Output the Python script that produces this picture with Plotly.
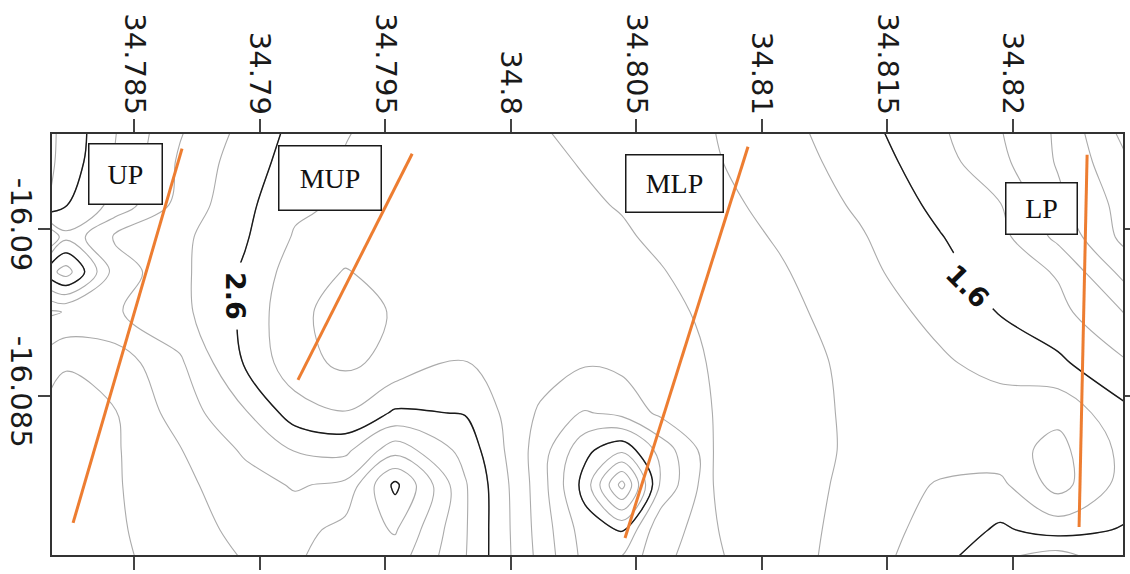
import plotly.graph_objects as go

# ---------------- data ----------------
# grid longitudes (columns) and latitudes (rows) of the gridded survey values
lon = [34.78157, 34.78229, 34.78424, 34.78683, 34.78942, 34.79141, 34.79341, 34.79540,
       34.79819, 34.80118, 34.80297, 34.80444, 34.80596, 34.80755, 34.81074, 34.81392,
       34.81711, 34.81950, 34.82181, 34.82448]
lat = [-16.09296, -16.09201, -16.09072, -16.08976, -16.08871, -16.08751, -16.08599,
       -16.08449, -16.08338, -16.08234, -16.08099, -16.08015]

# gridded values, one list per latitude row (north to south)
z_r00 = [3.85, 3.74, 3.41, 3.02, 2.74, 2.55, 2.41, 2.35, 2.29, 2.21, 2.16, 2.12, 2.07, 2.03, 1.87, 1.67, 1.43, 1.21, 0.97, 0.53]
z_r01 = [3.85, 3.72, 3.39, 2.97, 2.69, 2.52, 2.39, 2.35, 2.29, 2.23, 2.19, 2.14, 2.09, 2.04, 1.90, 1.71, 1.48, 1.25, 0.98, 0.63]
z_r02 = [3.80, 3.61, 3.34, 2.93, 2.65, 2.44, 2.37, 2.34, 2.30, 2.25, 2.22, 2.19, 2.13, 2.08, 1.94, 1.77, 1.55, 1.41, 1.05, 0.72]
z_r03 = [2.95, 3.35, 2.97, 2.85, 2.62, 2.38, 2.28, 2.30, 2.30, 2.27, 2.25, 2.22, 2.17, 2.11, 1.98, 1.82, 1.61, 1.46, 1.15, 0.74]
z_r04 = [3.70, 3.90, 3.11, 2.85, 2.57, 2.30, 2.19, 2.26, 2.30, 2.28, 2.26, 2.24, 2.21, 2.15, 2.02, 1.86, 1.66, 1.52, 1.38, 0.93]
z_r05 = [2.97, 3.01, 3.02, 2.86, 2.56, 2.23, 2.15, 2.21, 2.30, 2.30, 2.28, 2.26, 2.23, 2.19, 2.05, 1.91, 1.74, 1.59, 1.46, 1.19]
z_r06 = [3.30, 3.39, 3.31, 3.03, 2.58, 2.27, 2.16, 2.26, 2.41, 2.30, 2.22, 2.25, 2.24, 2.21, 2.08, 1.95, 1.83, 1.73, 1.64, 1.42]
z_r07 = [3.45, 3.45, 3.41, 3.11, 2.82, 2.50, 2.41, 2.63, 2.59, 2.17, 1.98, 2.06, 2.24, 2.22, 2.09, 1.96, 1.90, 1.90, 1.95, 1.65]
z_r08 = [3.48, 3.47, 3.42, 3.21, 2.97, 2.79, 2.75, 3.12, 2.73, 2.10, 1.65, 1.45, 1.87, 2.22, 2.10, 1.96, 1.90, 1.92, 2.06, 1.74]
z_r09 = [3.50, 3.48, 3.42, 3.25, 3.08, 2.98, 3.04, 3.65, 2.82, 2.10, 1.52, 0.72, 1.82, 2.22, 2.10, 1.94, 1.78, 1.75, 2.08, 1.72]
z_r10 = [3.50, 3.50, 3.43, 3.28, 3.15, 3.12, 3.27, 3.42, 2.82, 2.12, 1.70, 1.58, 2.15, 2.23, 2.10, 1.91, 1.72, 1.57, 1.68, 1.58]
z_r11 = [3.50, 3.50, 3.44, 3.31, 3.19, 3.18, 3.28, 3.30, 2.81, 2.14, 1.74, 1.82, 2.17, 2.25, 2.09, 1.90, 1.67, 1.42, 1.30, 1.55]

# survey profiles (start / end points)
profile_names = ["UP", "MUP", "MLP", "LP"]
profile_lon_start = [34.78691, 34.79608, 34.80946, 34.82297]
profile_lat_start = [-16.09240, -16.09225, -16.09246, -16.09222]
profile_lon_end = [34.78257, 34.79153, 34.80456, 34.82265]
profile_lat_end = [-16.08120, -16.08548, -16.08075, -16.08108]

# axis ticks
x_ticks = [34.785, 34.79, 34.795, 34.8, 34.805, 34.81, 34.815, 34.82]
x_tick_text = ["34.785", "34.79", "34.795", "34.8", "34.805", "34.81", "34.815", "34.82"]
y_ticks = [-16.09, -16.085]
y_tick_text = ["-16.09", "-16.085"]

# contour labels shown on the map
contour_label_text = ["2.6", "1.6"]

# ---------------- layout constants ----------------
X_RANGE = [34.78173, 34.82440]
Y_RANGE = [-16.08024, -16.09284]  # reversed: -16.09 at top
label_box_pos = [(34.78466, -16.09165), (34.79281, -16.09153), (34.80653, -16.09136), (34.82116, -16.09061)]
label_box_size = [(72, 59), (101, 63), (96, 56), (70, 50)]
contour_label_pos = [(34.78906, -16.08799), (34.81823, -16.08829)]
contour_label_angle = [90, 45]

z = [z_r00, z_r01, z_r02, z_r03, z_r04, z_r05, z_r06, z_r07, z_r08, z_r09, z_r10, z_r11]

fig = go.Figure()

# thin grey contours every 0.2
fig.add_trace(go.Contour(
    x=lon, y=lat, z=z,
    contours=dict(start=0.6, end=3.8, size=0.2, coloring="none"),
    line=dict(color="#ababab", width=1.1, smoothing=1.0),
    showscale=False, hoverinfo="skip",
))
# black index contours
fig.add_trace(go.Contour(
    x=lon, y=lat, z=z,
    contours=dict(start=1.6, end=3.6, size=1.0, coloring="none"),
    line=dict(color="#1a1a1a", width=1.4, smoothing=1.0),
    showscale=False, hoverinfo="skip",
))

# profiles
for i, name in enumerate(profile_names):
    fig.add_trace(go.Scatter(
        x=[profile_lon_start[i], profile_lon_end[i]],
        y=[profile_lat_start[i], profile_lat_end[i]],
        mode="lines", line=dict(color="#ED7D31", width=3),
        showlegend=False, hoverinfo="skip", name=name,
    ))

annotations = []
for i, name in enumerate(profile_names):
    bx, by = label_box_pos[i]
    w, h = label_box_size[i]
    annotations.append(dict(
        x=bx, y=by, xref="x", yref="y", text=name, showarrow=False,
        font=dict(family="Liberation Serif, Times New Roman, serif", size=28, color="#111"),
        bgcolor="white", bordercolor="#1a1a1a", borderwidth=1.5, borderpad=0,
        width=w, height=h, align="center", valign="middle",
    ))
for i, t in enumerate(contour_label_text):
    cx, cy = contour_label_pos[i]
    annotations.append(dict(
        x=cx, y=cy, xref="x", yref="y", text="<b>" + t + "</b>", showarrow=False,
        textangle=contour_label_angle[i],
        font=dict(family="DejaVu Sans, Arial, sans-serif", size=27, color="#111"),
        bgcolor="white", borderpad=9,
    ))

axis_font = dict(family="DejaVu Sans, Arial, sans-serif", size=29, color="#1a1a1a")
fig.update_layout(
    width=1130, height=574,
    margin=dict(l=52, r=7, t=134, b=19, autoexpand=False),
    paper_bgcolor="white", plot_bgcolor="white",
    showlegend=False,
    annotations=annotations,
    xaxis=dict(
        side="top", range=X_RANGE, tickvals=x_ticks, ticktext=x_tick_text,
        tickangle=90, ticks="outside", ticklen=13, tickwidth=2, tickcolor="#444",
        showline=True, linecolor="#333", linewidth=2, mirror="ticks",
        showgrid=False, zeroline=False, tickfont=axis_font, automargin=False,
        ticklabelstandoff=-6,
    ),
    yaxis=dict(
        range=Y_RANGE, tickvals=y_ticks, ticktext=y_tick_text,
        tickangle=90, ticks="outside", ticklen=12, tickwidth=2, tickcolor="#444",
        showline=True, linecolor="#333", linewidth=2, mirror="ticks",
        showgrid=False, zeroline=False, tickfont=axis_font, automargin=False,
        ticklabelstandoff=-8,
    ),
)

fig.write_html(
    "out.html",
    config={"displayModeBar": False},
    post_script="document.body.style.margin='0px';document.body.style.overflow='hidden';",
)
